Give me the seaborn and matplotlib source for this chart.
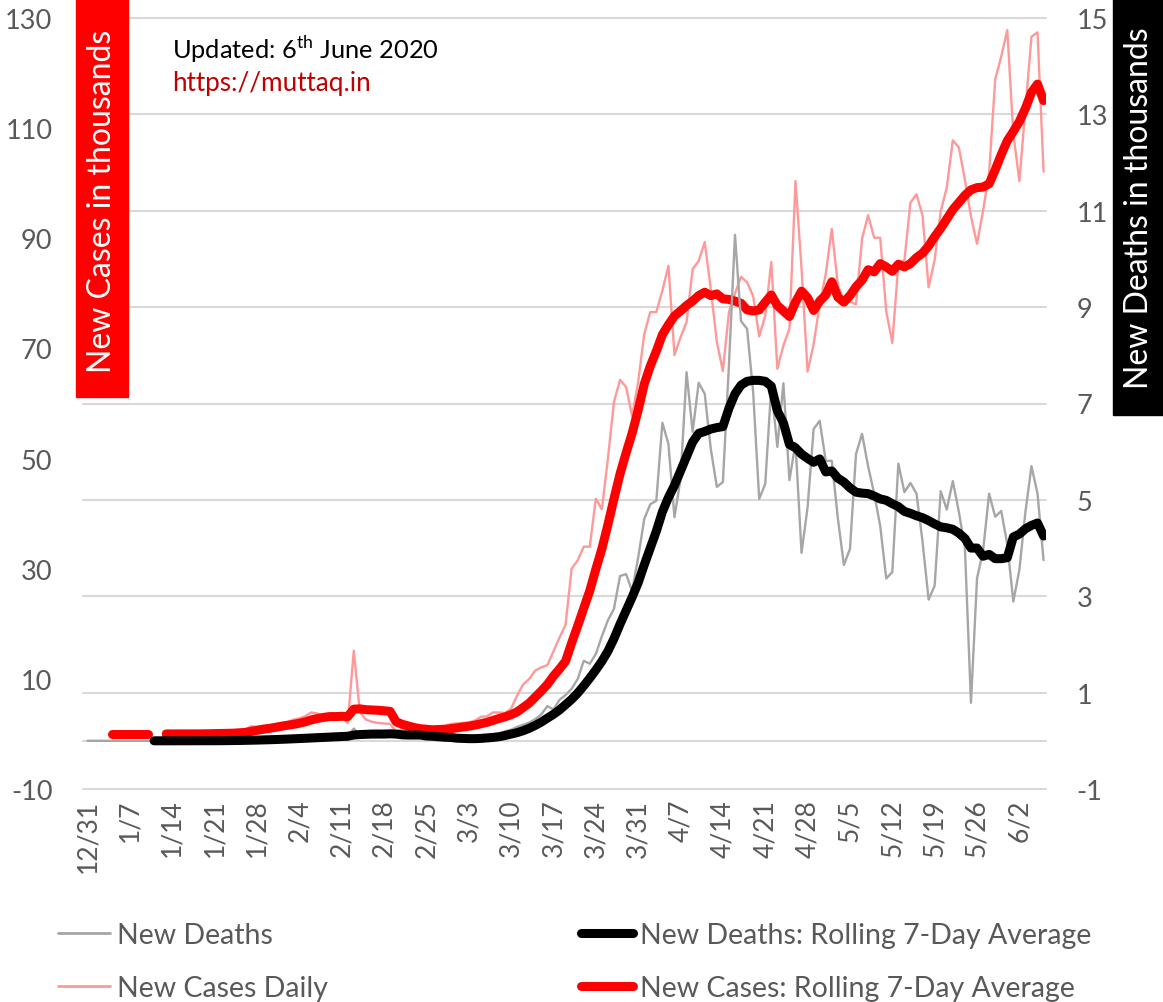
import numpy as np
import pandas as pd
import matplotlib
matplotlib.use("Agg")
import matplotlib.pyplot as plt
import matplotlib.transforms as mtransforms
from matplotlib.lines import Line2D
from matplotlib.patches import Rectangle
import seaborn as sns

nan = np.nan

# -------------------------------
# Data (thousands), one value per day from 12/31/2019 to 6/6/2020
# -------------------------------
cases_daily = [
    nan, nan, nan, nan, 0.0, 0.02, 0.0, 0.0, 0.0, 0.0,
    0.0, nan, nan, 0.0, 0.0, 0.0, 0.0, 0.0, 0.01, 0.02,
    0.14, 0.1, 0.15, 0.1, 0.27, 0.46, 0.68, 1.4, 1.3, 1.5,
    1.45, 1.75, 2.0, 2.1, 2.6, 2.8, 3.25, 3.9, 3.7, 3.2,
    3.4, 2.7, 3.1, 2.0, 15.1, 4.0, 2.6, 2.2, 2.0, 1.9,
    1.8, 0.4, 0.9, 0.6, 0.6, 0.7, 0.9, 1.0, 1.2, 1.4,
    1.8, 1.9, 2.0, 2.1, 2.4, 3.1, 3.2, 3.9, 3.9, 3.8,
    4.6, 7.0, 9.0, 10.0, 11.5, 12.1, 12.5, 15.0, 17.5, 19.8,
    30.0, 31.5, 34.0, 34.0, 42.7, 40.8, 50.0, 60.3, 64.3, 63.0,
    57.7, 63.9, 72.6, 76.6, 76.6, 80.5, 85.0, 68.8, 72.0, 74.8,
    84.4, 85.9, 89.3, 80.8, 71.2, 65.9, 76.6, 80.0, 83.0, 82.0,
    79.5, 72.2, 75.9, 85.7, 66.3, 70.5, 73.6, 100.4, 84.5, 65.8,
    70.8, 78.0, 83.5, 91.7, 81.5, 78.6, 78.5, 78.0, 89.9, 94.2,
    90.1, 90.1, 76.7, 71.0, 85.4, 86.0, 96.5, 98.0, 94.1, 81.1,
    86.1, 94.9, 99.2, 107.8, 106.5, 100.6, 94.0, 89.0, 95.0, 101.9,
    118.8, 123.0, 127.8, 109.0, 100.4, 113.5, 126.6, 127.4, 102.1,
]

cases_avg = [
    nan, nan, nan, nan, 0.0, 0.0, 0.0, 0.0, 0.0, 0.0,
    0.0, nan, nan, 0.0, 0.0, 0.0, 0.0, 0.0, 0.01, 0.01,
    0.03, 0.05, 0.07, 0.09, 0.13, 0.19, 0.27, 0.46, 0.64, 0.84,
    1.0, 1.2, 1.38, 1.57, 1.73, 1.94, 2.2, 2.55, 2.8, 3.0,
    3.15, 3.15, 3.2, 3.15, 4.5, 4.55, 4.4, 4.35, 4.3, 4.2,
    4.1, 2.2, 1.75, 1.45, 1.15, 0.95, 0.85, 0.75, 0.8, 0.85,
    0.95, 1.1, 1.25, 1.4, 1.6, 1.85, 2.1, 2.45, 2.8, 3.1,
    3.5, 4.0, 4.8, 5.6, 6.7, 7.8, 9.0, 10.5, 11.8, 13.2,
    16.5, 19.6, 22.8, 26.0, 29.9, 33.6, 38.0, 42.7, 47.2, 51.0,
    54.6, 58.8, 63.5, 66.8, 69.5, 72.5, 74.3, 75.9, 76.8, 77.8,
    78.6, 79.6, 80.2, 79.6, 79.9, 79.0, 78.9, 78.6, 78.2, 77.0,
    76.8, 77.0, 78.4, 79.7, 77.8, 76.8, 75.8, 78.4, 80.4, 79.2,
    76.9, 78.6, 79.7, 82.1, 79.3, 78.4, 79.6, 81.2, 82.4, 84.3,
    83.9, 85.4, 84.8, 84.0, 85.3, 84.8, 85.4, 86.5, 87.3, 88.6,
    90.3, 91.8, 93.5, 95.2, 96.5, 97.8, 98.8, 99.2, 99.3, 99.9,
    102.4, 105.2, 107.7, 109.4, 111.2, 113.6, 116.5, 118.0, 115.0,
]

deaths_daily = [
    0.0, 0.0, 0.0, 0.0, 0.0, 0.0, 0.0, 0.0, 0.0, 0.0,
    0.0, 0.0, 0.0, 0.0, 0.0, 0.0, 0.0, 0.0, 0.0, 0.0,
    0.003, 0.003, 0.006, 0.009, 0.016, 0.015, 0.015, 0.024, 0.026, 0.026,
    0.038, 0.043, 0.046, 0.045, 0.057, 0.064, 0.066, 0.073, 0.073, 0.086,
    0.089, 0.097, 0.108, 0.097, 0.254, 0.13, 0.143, 0.142, 0.106, 0.098,
    0.139, 0.115, 0.118, 0.109, 0.097, 0.15, 0.071, 0.052, 0.029, 0.044,
    0.047, 0.035, 0.042, 0.064, 0.059, 0.08, 0.105, 0.106, 0.14, 0.2,
    0.23, 0.29, 0.33, 0.38, 0.45, 0.55, 0.72, 0.65, 0.85, 0.95,
    1.08, 1.28, 1.66, 1.6, 1.8, 2.17, 2.5, 2.74, 3.42, 3.46,
    3.11, 3.8, 4.6, 4.91, 4.98, 6.6, 6.16, 4.64, 5.43, 7.65,
    6.41, 7.43, 7.2, 6.06, 5.27, 5.37, 7.8, 10.5, 8.71, 8.55,
    7.24, 5.02, 5.33, 7.36, 6.1, 7.42, 5.41, 6.18, 3.9, 4.85,
    6.47, 6.64, 5.81, 5.81, 4.62, 3.65, 3.98, 5.95, 6.37, 5.7,
    5.13, 4.46, 3.37, 3.5, 5.75, 5.16, 5.35, 5.13, 4.13, 2.93,
    3.22, 5.18, 4.8, 5.39, 4.75, 4.0, 0.79, 3.37, 3.94, 5.13,
    4.65, 4.77, 4.08, 2.89, 3.55, 4.75, 5.7, 5.13, 3.75,
]

deaths_avg = [
    nan, nan, nan, nan, nan, nan, nan, nan, nan, nan,
    nan, 0.0, 0.0, 0.0, 0.0, 0.0, 0.0, 0.0, 0.0, 0.0,
    0.0, 0.001, 0.002, 0.003, 0.005, 0.007, 0.009, 0.012, 0.015, 0.018,
    0.021, 0.026, 0.03, 0.036, 0.041, 0.047, 0.053, 0.059, 0.064, 0.07,
    0.075, 0.081, 0.09, 0.095, 0.12, 0.13, 0.135, 0.14, 0.14, 0.14,
    0.145, 0.14, 0.125, 0.12, 0.12, 0.12, 0.1, 0.095, 0.085, 0.075,
    0.07, 0.055, 0.05, 0.045, 0.045, 0.05, 0.06, 0.07, 0.085, 0.11,
    0.14, 0.17, 0.21, 0.26, 0.32, 0.39, 0.47, 0.55, 0.64, 0.75,
    0.86, 0.99, 1.14, 1.3, 1.47, 1.65, 1.86, 2.12, 2.42, 2.7,
    2.98, 3.28, 3.65, 4.0, 4.35, 4.75, 5.05, 5.3, 5.6, 5.9,
    6.2, 6.38, 6.42, 6.47, 6.5, 6.52, 6.9, 7.2, 7.38, 7.46,
    7.48, 7.48, 7.46, 7.36, 6.85, 6.6, 6.15, 6.08, 5.95, 5.86,
    5.78, 5.85, 5.58, 5.6, 5.45, 5.37, 5.25, 5.16, 5.14, 5.13,
    5.08, 5.02, 4.99, 4.92, 4.86, 4.76, 4.72, 4.67, 4.63, 4.57,
    4.5, 4.44, 4.42, 4.39, 4.31, 4.2, 4.0, 4.0, 3.83, 3.87,
    3.78, 3.78, 3.8, 4.23, 4.29, 4.4, 4.47, 4.52, 4.25,
]

tick_labels = ["12/31", "1/7", "1/14", "1/21", "1/28", "2/4", "2/11", "2/18",
               "2/25", "3/3", "3/10", "3/17", "3/24", "3/31", "4/7", "4/14",
               "4/21", "4/28", "5/5", "5/12", "5/19", "5/26", "6/2"]
left_ticks = [-10, 10, 30, 50, 70, 90, 110, 130]
right_ticks = [-1, 1, 3, 5, 7, 9, 11, 13, 15]

legend_labels = ["New Deaths", "New Cases Daily",
                 "New Deaths: Rolling 7-Day Average",
                 "New Cases: Rolling 7-Day Average"]

df = pd.DataFrame({
    "cases_daily": cases_daily,
    "cases_avg": cases_avg,
    "deaths_daily": deaths_daily,
    "deaths_avg": deaths_avg,
})
df["day"] = np.arange(len(df))


def pieces(col):
    # split at gaps so seaborn does not bridge the missing days
    s = df[["day", col]].copy()
    s["seg"] = s[col].isna().cumsum()
    return s.dropna()


# -------------------------------
# Style
# -------------------------------
sns.set_theme(style="white")
plt.rcParams["font.family"] = ["Lato", "DejaVu Sans"]
plt.rcParams["axes.unicode_minus"] = False

GRAY_TXT = "#595959"
GRID = "#d9d9d9"
W, H = 1163, 1003

fig = plt.figure(figsize=(W / 100, H / 100), dpi=100)
ax = fig.add_axes([83 / W, 1 - 790 / H, (1046 - 83) / W, (790 - 19) / H])
ax2 = ax.twinx()

# -------------------------------
# Limits first (gridlines use the right axis scale)
# -------------------------------
ax.set_xlim(-0.75, 158.4)
ax.set_ylim(-10, 130)
ax2.set_ylim(-1, 15)

trans = mtransforms.blended_transform_factory(ax.transAxes, ax2.transData)
for v in right_ticks + [0]:
    ax.add_artist(Line2D([0, 1], [v, v], transform=trans, color=GRID,
                         lw=1.5, zorder=0, clip_on=False))

# -------------------------------
# Lines
# -------------------------------
thin = dict(lw=1.7, estimator=None, units="seg", legend=False)
thick = dict(lw=6.5, estimator=None, units="seg", legend=False,
             solid_capstyle="round", solid_joinstyle="round")

sns.lineplot(data=pieces("cases_daily"), x="day", y="cases_daily",
             color="#FF9999", ax=ax, **thin)
sns.lineplot(data=pieces("cases_avg"), x="day", y="cases_avg",
             color="#FF0000", ax=ax, **thick)
sns.lineplot(data=pieces("deaths_daily"), x="day", y="deaths_daily",
             color="#A6A6A6", ax=ax2, **thin)
sns.lineplot(data=pieces("deaths_avg"), x="day", y="deaths_avg",
             color="black", ax=ax2, **thick)

# -------------------------------
# Axes
# -------------------------------
ax.set_xlim(-0.75, 158.4)
ax.set_ylim(-10, 130)
ax2.set_ylim(-1, 15)
ax.set_xticks(np.arange(0, 7 * len(tick_labels), 7))
ax.set_xticklabels(tick_labels, rotation=90)
ax.set_yticks(left_ticks)
ax.set_yticklabels([str(v) for v in left_ticks])
ax2.set_yticks(right_ticks)
ax2.set_yticklabels([str(v) for v in right_ticks])
ax.tick_params(axis="x", length=0, pad=7, labelsize=19, labelcolor=GRAY_TXT)
ax.tick_params(axis="y", length=0, pad=22, labelsize=19.5, labelcolor=GRAY_TXT)
ax2.tick_params(axis="y", length=0, pad=22, labelsize=19.5, labelcolor=GRAY_TXT)
for a in (ax, ax2):
    a.set_xlabel("")
    a.set_ylabel("")
    a.grid(False)
    for s in a.spines.values():
        s.set_visible(False)

# -------------------------------
# Axis title boxes
# -------------------------------
fig.add_artist(Rectangle((76 / W, 1 - 398 / H), 52 / W, 398 / H,
                         transform=fig.transFigure, color="#FF0000", zorder=5))
fig.text(102 / W, 1 - 201 / H, "New Cases in thousands", rotation=90,
         ha="center", va="center", color="white", fontsize=23, zorder=6)
fig.add_artist(Rectangle((1113 / W, 1 - 416 / H), 50 / W, 416 / H,
                         transform=fig.transFigure, color="black", zorder=5))
fig.text(1139 / W, 1 - 208 / H, "New Deaths in thousands", rotation=90,
         ha="center", va="center", color="white", fontsize=23, zorder=6)

# -------------------------------
# Notes
# -------------------------------
fig.text(172 / W, 1 - 59 / H, r"Updated: 6$^{\mathregular{th}}$ June 2020",
         fontsize=18.3, color="black", va="baseline")
fig.text(172 / W, 1 - 91 / H, "https://muttaq.in",
         fontsize=18.8, color="#C00000", va="baseline")

# -------------------------------
# Legend
# -------------------------------
handles = [
    Line2D([], [], color="#A6A6A6", lw=2),
    Line2D([], [], color="#FF9999", lw=2),
    Line2D([], [], color="black", lw=6.5, solid_capstyle="round"),
    Line2D([], [], color="#FF0000", lw=6.5, solid_capstyle="round"),
]
fig.legend(handles, legend_labels, ncol=2, loc="upper left",
           bbox_to_anchor=(58 / W, 1 - 923 / H), frameon=False, fontsize=20.5,
           handlelength=1.82, handletextpad=0.25, columnspacing=8.9,
           labelspacing=0.95, borderpad=0, borderaxespad=0,
           labelcolor=GRAY_TXT)

fig.savefig("out.png", dpi=100)
